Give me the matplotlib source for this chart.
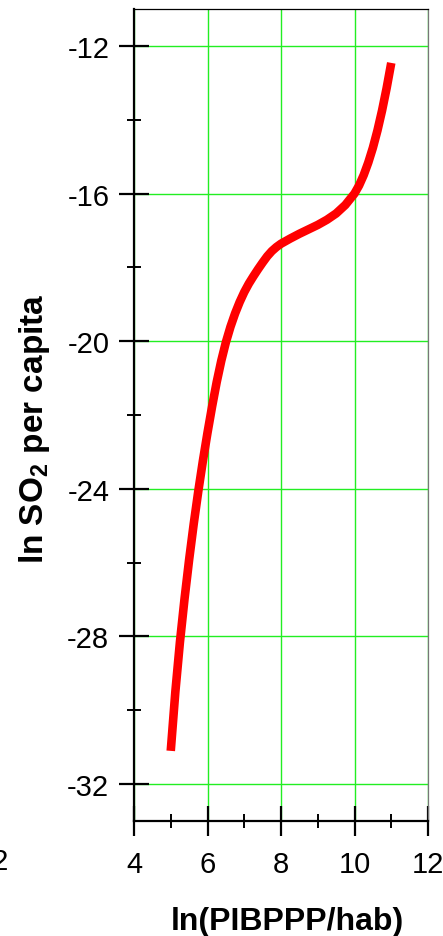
import matplotlib
matplotlib.use("Agg")
import matplotlib.pyplot as plt
from matplotlib.ticker import MultipleLocator

plt.rcParams['font.family'] = ['Liberation Sans', 'DejaVu Sans']
plt.rcParams['mathtext.fontset'] = 'custom'
plt.rcParams['mathtext.rm'] = 'Liberation Sans'
plt.rcParams['mathtext.bf'] = 'Liberation Sans:bold'
plt.rcParams['axes.unicode_minus'] = False

# Data
ln_gdp = [5.0, 5.125, 5.25, 5.375, 5.5, 5.625, 5.75, 5.875, 6.0, 6.125, 6.25,
          6.375, 6.5, 6.625, 6.75, 6.875, 7.0, 7.125, 7.25, 7.375, 7.5, 7.625,
          7.75, 7.875, 8.0, 8.25, 8.5, 8.75, 9.0, 9.25, 9.5, 9.75, 10.0,
          10.125, 10.25, 10.375, 10.5, 10.625, 10.75, 10.875, 11.0]
ln_so2 = [-31.1, -29.5, -28.15, -26.98, -25.92, -24.95, -24.06, -23.24, -22.48,
          -21.77, -21.11, -20.53, -20.03, -19.61, -19.25, -18.94, -18.67,
          -18.44, -18.24, -18.05, -17.87, -17.7, -17.56, -17.45, -17.36,
          -17.22, -17.09, -16.97, -16.85, -16.71, -16.54, -16.31, -16.0,
          -15.78, -15.5, -15.16, -14.76, -14.29, -13.75, -13.14, -12.46]

x_ticks = [4, 6, 8, 10, 12]
y_ticks = [-32, -28, -24, -20, -16, -12]

W, H = 443, 937
fig = plt.figure(figsize=(W / 100, H / 100), dpi=100)
ax = fig.add_axes([134 / W, (H - 822) / H, (428 - 134) / W, (822 - 10) / H])

ax.plot(ln_gdp, ln_so2, color='#ff0000', lw=6.2, solid_joinstyle='round',
        solid_capstyle='butt', zorder=3)

ax.set_xlim(4, 12)
ax.set_ylim(-33, -11)
ax.set_xticks(x_ticks)
ax.set_yticks(y_ticks)
ax.xaxis.set_minor_locator(MultipleLocator(1))
ax.yaxis.set_minor_locator(MultipleLocator(2))

ax.grid(True, which='major', color='#22ee22', lw=1.0, zorder=1)

for s in ['left', 'bottom']:
    ax.spines[s].set_linewidth(1.6)
    ax.spines[s].set_color('black')
ax.spines['top'].set_linewidth(0.9)
ax.spines['top'].set_color('black')
ax.spines['right'].set_linewidth(0.9)
ax.spines['right'].set_color('#777777')

ax.tick_params(which='major', direction='inout', length=21.5, width=1.6,
               labelsize=21, colors='black')
ax.tick_params(which='minor', direction='inout', length=10, width=1.4)
ax.tick_params(axis='y', which='major', pad=7)
ax.tick_params(axis='x', which='major', pad=10)

ax.set_xlabel('ln(PIBPPP/hab)', fontsize=23, fontweight='bold')
ax.xaxis.label.set_va('baseline')
ax.xaxis.set_label_coords(0.52, -(930 - 822) / 812, transform=ax.transAxes)
ax.set_ylabel(r'ln SO$_\mathbf{2}$ per capita', fontsize=24, fontweight='bold')
ax.yaxis.label.set_va('baseline')
ax.yaxis.set_label_coords((43 - 134) / 294, (822 - 429) / 812)

# partially visible tick label of the neighbouring panel
fig.text(9 / W, 1 - 862 / H, '12', ha='right', va='center', fontsize=21)

fig.savefig('out.png', dpi=100)
